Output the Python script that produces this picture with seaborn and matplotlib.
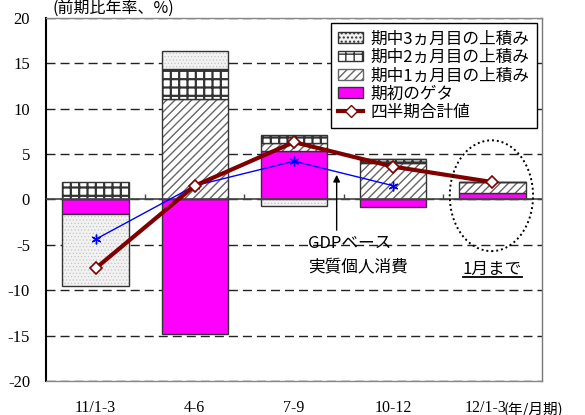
import numpy as np
import pandas as pd
import matplotlib
matplotlib.use("Agg")
import matplotlib.pyplot as plt
import matplotlib.transforms as mtransforms
import seaborn as sns
from matplotlib.patches import Patch, Ellipse
from matplotlib.lines import Line2D
from matplotlib.colors import to_rgba

# ---------------- data ----------------
categories = ["11/1-3", "4-6", "7-9", "10-12", "12/1-3"]
geta = [-1.6, -14.8, 5.35, -0.85, 0.75]        # 期初のゲタ
month1 = [0.0, 11.1, 0.8, 4.0, 1.2]            # 期中1ヵ月目の上積み
month2 = [1.9, 3.3, 0.9, 0.4, 0.0]             # 期中2ヵ月目の上積み
month3 = [-7.9, 1.9, -0.7, 0.0, 0.0]           # 期中3ヵ月目の上積み
quarter_total = [-7.6, 1.5, 6.3, 3.6, 1.9]     # 四半期合計値
gdp_consumption = [-4.4, 1.5, 4.2, 1.5]        # GDPベース実質個人消費
yticks = [20, 15, 10, 5, 0, -5, -10, -15, -20]
lbl_m3 = "期中3ヵ月目の上積み"
lbl_m2 = "期中2ヵ月目の上積み"
lbl_m1 = "期中1ヵ月目の上積み"
lbl_geta = "期初のゲタ"
lbl_total = "四半期合計値"

plt.rcParams['font.family'] = ['Noto Sans CJK JP', 'DejaVu Sans']
plt.rcParams['axes.unicode_minus'] = False

fig = plt.figure(figsize=(5.85, 4.15), dpi=100)
ax = fig.add_axes([46 / 585, 34 / 415, 496 / 585, 363.3 / 415])

EDGE = "#333333"
styles = [
    (geta, dict(face="#FF00FF", hatch=None, hc=EDGE, hlw=1.0)),
    (month1, dict(face="white", hatch="////", hc="#666666", hlw=1.0)),
    (month2, dict(face="white", hatch="++", hc="#333333", hlw=1.6)),
    (month3, dict(face="#f2f2f2", hatch=".....", hc="#c4c4c4", hlw=0.5)),
]

pos = np.zeros(len(categories))
neg = np.zeros(len(categories))
for vals, st in styles:
    v = np.array(vals, dtype=float)
    bottom = np.where(v >= 0, pos, neg)
    pos = pos + np.where(v >= 0, v, 0)
    neg = neg + np.where(v < 0, v, 0)
    n0 = len(ax.patches)
    kw = dict(hatch=st["hatch"]) if st["hatch"] else {}
    sns.barplot(x=categories, y=v, bottom=bottom, order=categories,
                color=st["face"], saturation=1, width=0.67,
                edgecolor=EDGE, linewidth=1.0, errorbar=None,
                ax=ax, zorder=2, **kw)
    for p in ax.patches[n0:]:
        p._hatch_color = to_rgba(st["hc"])
        if hasattr(p, "set_hatch_linewidth"):
            p.set_hatch_linewidth(st["hlw"])
        else:
            p._hatch_linewidth = st["hlw"]

# lines
sns.lineplot(x=np.arange(len(gdp_consumption)), y=gdp_consumption, ax=ax,
             color="#0000FF", lw=1.0, marker=(6, 2, 0), markersize=7,
             markeredgewidth=1.0, markeredgecolor="#0000FF", zorder=4)
sns.lineplot(x=np.arange(len(quarter_total)), y=quarter_total, ax=ax,
             color="#800000", lw=3.0, marker="D", markersize=6,
             markerfacecolor="white", markeredgecolor="#800000",
             markeredgewidth=1.2, zorder=5)

# axes
ax.set_xlim(-0.5, len(categories) - 0.5)
ax.set_ylim(-20, 20)
ax.set_yticks(yticks)
ax.set_yticklabels([str(t) for t in yticks], fontfamily="Liberation Serif", fontsize=12)
ax.set_xticks(range(len(categories)))
ax.set_xticklabels(categories, fontfamily="Liberation Serif", fontsize=11.5)
ax.tick_params(axis="y", length=0, pad=11.5)
ax.tick_params(axis="x", length=0, pad=14)
# the last category label sits a little left, next to the unit text
last = ax.get_xticklabels()[-1]
last.set_transform(last.get_transform() + mtransforms.ScaledTranslation(-7 / 100, 0, fig.dpi_scale_trans))
ax.set_xlabel("")
ax.set_ylabel("")
ax.yaxis.grid(True, color="#222222", lw=1.0, linestyle=(0, (6.5, 3.6)))
ax.xaxis.grid(False)
ax.set_axisbelow(True)
ax.spines["left"].set_color("black")
ax.spines["left"].set_linewidth(1.5)
ax.spines["right"].set_color("#777777")
ax.spines["right"].set_linewidth(1.0)
for s in ["top", "bottom"]:
    ax.spines[s].set_color("#888888")
    ax.spines[s].set_linewidth(1.0)

# zero axis with category boundary ticks
ax.axhline(0, color="#444444", lw=1.2, zorder=3)
ax.vlines(np.arange(len(categories) - 1) + 0.5, 0, 0.55, color="#444444", lw=1.0, zorder=3)

# ellipse around last bar
ax.add_patch(Ellipse((3.99, 0.4), 0.84, 12.2, fill=False, edgecolor="black",
                     lw=1.4, linestyle=(0, (1, 1.5)), zorder=6))

# annotations
ax.annotate("", xy=(2.43, 2.7), xytext=(2.43, -3.4),
            arrowprops=dict(arrowstyle="-|>", color="black", lw=1.0,
                            mutation_scale=10, shrinkA=0, shrinkB=0), zorder=6)
ax.text(2.14, -4.81, "GDPベース", fontsize=12, ha="left", va="center", zorder=6)
ax.text(2.14, -7.57, "実質個人消費", fontsize=12, ha="left", va="center", zorder=6)
t = ax.text(4.0, -7.7, "1月まで", fontsize=12, ha="center", va="center", zorder=6)

fig.text(52 / 585, 1 - 8 / 415, "(前期比年率、%)", fontsize=11.5, ha="left", va="center")
fig.text(504 / 585, 1 - 409 / 415, "(年/月期)", fontsize=10.5, ha="left", va="center")

# legend
handles = [
    Patch(facecolor="#f2f2f2", edgecolor="#333333", hatch="....", lw=1.0),
    Patch(facecolor="white", edgecolor="#333333", hatch="++", lw=1.0),
    Patch(facecolor="white", edgecolor="#666666", hatch="////", lw=1.0),
    Patch(facecolor="#FF00FF", edgecolor="#333333", lw=1.0),
    Line2D([], [], color="#800000", lw=3.0, marker="D", markersize=6,
           markerfacecolor="white", markeredgecolor="#800000"),
]
leg = ax.legend(handles, [lbl_m3, lbl_m2, lbl_m1, lbl_geta, lbl_total],
                loc="upper right", bbox_to_anchor=(0.99, 0.985),
                fontsize=12, frameon=True, fancybox=False, framealpha=1,
                edgecolor="black", handlelength=1.5, handleheight=0.6,
                labelspacing=0.08, borderpad=0.45, handletextpad=0.45,
                borderaxespad=0.0)
leg.get_frame().set_linewidth(1.0)
leg.set_zorder(7)

# underline for 1月まで derived from the text extent
fig.canvas.draw()
bb = t.get_window_extent()
inv = ax.transData.inverted()
(x0, y0), (x1, _) = inv.transform([(bb.x0, bb.y0 + 1), (bb.x1, bb.y0 + 1)])
ax.plot([x0, x1], [y0, y0], color="black", lw=1.3, zorder=6)

fig.savefig("out.png", dpi=100)
